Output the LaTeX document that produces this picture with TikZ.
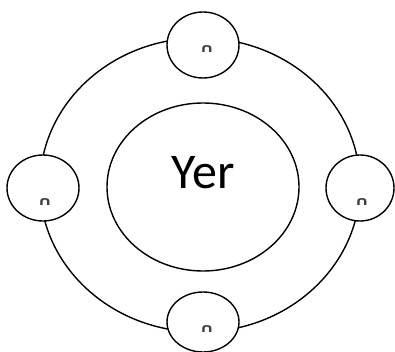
\documentclass[tikz,border=0pt]{standalone}
\usepackage{fontspec}
\setmainfont{Carlito}
\newfontfamily\symfont{DejaVu Sans}
\usetikzlibrary{shapes.geometric}
\newcommand{\archglyph}{\scalebox{1.5}[1]{∩}}
\begin{document}
\begin{tikzpicture}[x=1pt,y=-1pt,
  ring/.style={draw=black,line width=1.4pt,fill=white,ellipse,inner sep=0pt},
  capglyph/.style={font=\symfont\bfseries\fontsize{12}{12}\selectfont,text=black!75}]
\useasboundingbox (0,0) rectangle (395,352);
\node[ring,minimum width=320,minimum height=294] (outer) at (200,185) {};
\node[ring,minimum width=192,minimum height=168] (earth) at (203,187) {};
\node[font=\fontsize{50}{50}\selectfont] (yer) at (203,173) {Yer};
\node[ring,minimum width=72,minimum height=66] (top) at (203,45) {};
\node[ring,minimum width=72,minimum height=66] (left) at (43,188) {};
\node[ring,minimum width=68,minimum height=66] (right) at (360,188) {};
\node[ring,minimum width=72,minimum height=60] (bottom) at (203,322) {};
\node[capglyph] (mt) at (207,49) {\archglyph};
\node[capglyph] (ml) at (45,202) {\archglyph};
\node[capglyph] (mr) at (362,202) {\archglyph};
\node[capglyph] (mb) at (207,329) {\archglyph};
\end{tikzpicture}
\end{document}
